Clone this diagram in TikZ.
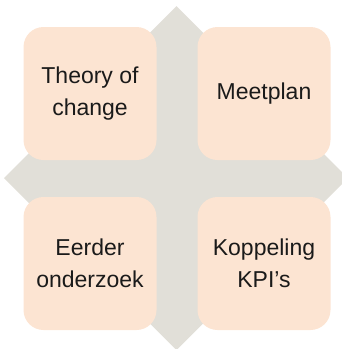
\documentclass[tikz,border=0pt]{standalone}
\usepackage{fontspec}
\setmainfont{Liberation Sans}
\definecolor{peach}{HTML}{FCE4D2}
\definecolor{crossgray}{HTML}{E1DFD8}
\definecolor{textdark}{HTML}{1A1A1A}

\begin{document}
\begin{tikzpicture}[x=1pt, y=-1pt,
    tile/.style={fill=peach, rounded corners=20pt, minimum width=133pt, minimum height=133pt,
      inner sep=0pt, align=center, text=textdark, font=\fontsize{23}{32}\selectfont},
    arm/.style={fill=crossgray, draw=none}]
        \clip (0,0) rectangle (342,349);
        % background cross
        \fill[arm] (176.5,6) -- (216.5,46) -- (216.5,310) -- (176.5,350) -- (136.5,310) -- (136.5,46) -- cycle;
        \fill[arm] (4,178) -- (44,138) -- (308,138) -- (348,178) -- (308,218) -- (44,218) -- cycle;
        % tiles
        \node[tile] (theory) at (90,93.5) {Theory of\\change};
        \node[tile] (meetplan) at (264,93.5) {Meetplan};
        \node[tile] (eerder) at (90,263.5) {Eerder\\onderzoek};
        \node[tile] (koppeling) at (264,263.5) {Koppeling\\KPI’s};
      \end{tikzpicture}
\end{document}
